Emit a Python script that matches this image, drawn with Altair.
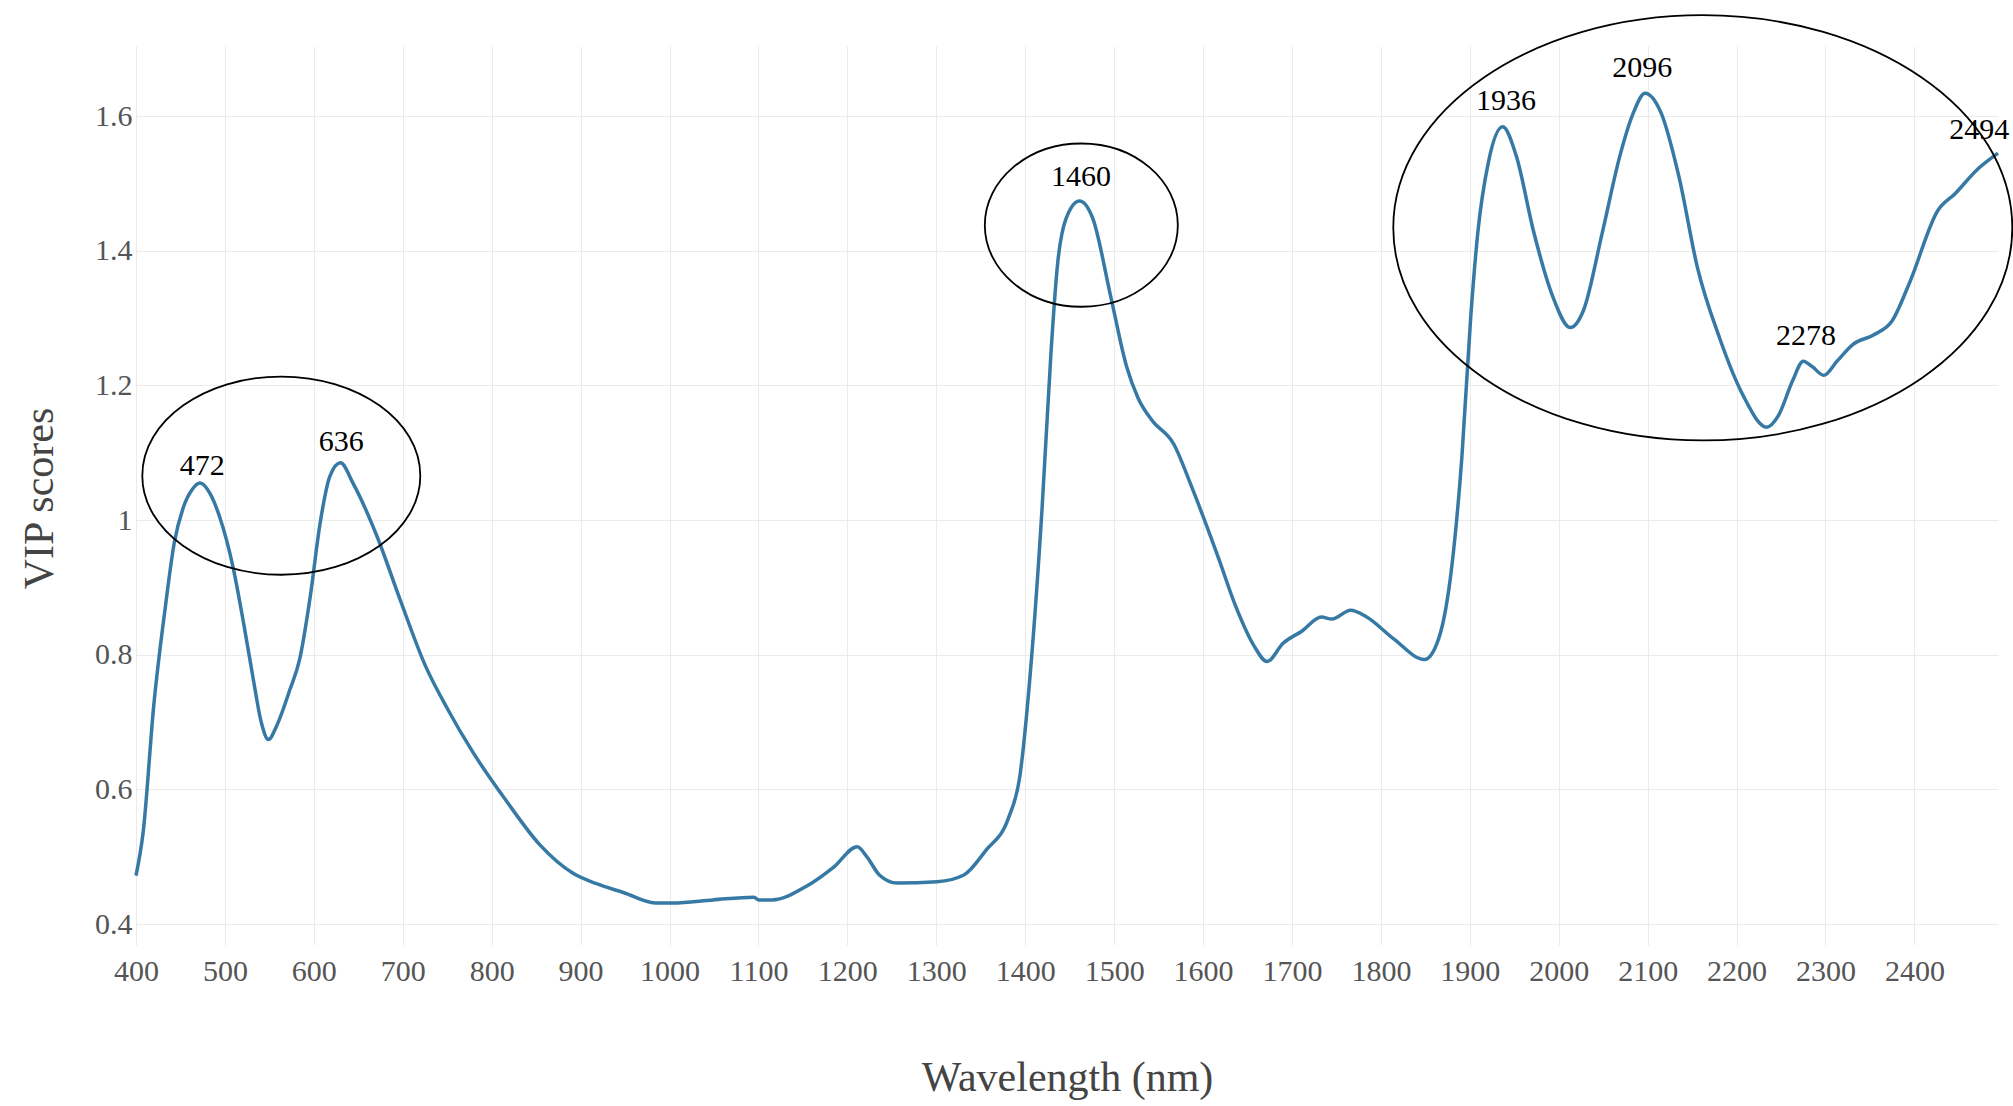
import altair as alt
import pandas as pd

# VIP score curve
wavelength = [400, 408, 420, 433, 443, 453, 463, 472, 483, 494, 509, 521, 532, 541, 549, 558,
              573, 584, 596, 607, 618, 630, 644, 671, 697, 725, 751, 779, 817, 854, 892, 918,
              948, 984, 1004, 1049, 1095, 1100, 1115, 1155, 1185, 1211, 1222, 1236,
              1256, 1301, 1331, 1356, 1381, 1394, 1406, 1419, 1429, 1436, 1446, 1461, 1476,
              1496, 1514, 1527, 1542, 1567, 1587, 1617, 1637, 1657, 1672, 1690, 1711, 1733,
              1745, 1766, 1784, 1814, 1849, 1865, 1880, 1891, 1901, 1909, 1921, 1937, 1952,
              1972, 1993, 2013, 2028, 2049, 2069, 2084, 2097, 2115, 2135, 2156, 2181, 2207,
              2234, 2247, 2263, 2275, 2285, 2298, 2313, 2331, 2354, 2375, 2395, 2426, 2446,
              2471, 2494]
vip = [0.472, 0.536, 0.725, 0.871, 0.966, 1.018, 1.045, 1.055, 1.040, 1.005, 0.931, 0.847,
       0.763, 0.699, 0.674, 0.694, 0.748, 0.793, 0.887, 0.995, 1.065, 1.085, 1.055, 0.976,
       0.882, 0.785, 0.718, 0.655, 0.582, 0.518, 0.475, 0.460, 0.447, 0.4315, 0.4315,
       0.436, 0.440, 0.436, 0.436, 0.457, 0.485, 0.515, 0.500, 0.473, 0.461, 0.463,
       0.473, 0.510, 0.557, 0.620, 0.777, 1.018, 1.249, 1.375, 1.448, 1.474, 1.448, 1.333,
       1.228, 1.181, 1.149, 1.113, 1.050, 0.945, 0.871, 0.814, 0.790, 0.817, 0.835, 0.856,
       0.853, 0.866, 0.856, 0.824, 0.793, 0.824, 0.934, 1.092, 1.301, 1.427, 1.532, 1.584,
       1.542, 1.427, 1.333, 1.286, 1.312, 1.427, 1.542, 1.605, 1.634, 1.605, 1.511, 1.375,
       1.270, 1.186, 1.138, 1.155, 1.207, 1.236, 1.228, 1.215, 1.236, 1.261, 1.275, 1.296,
       1.354, 1.459, 1.485, 1.521, 1.545]

# Peak annotations
label_text = ["472", "636", "1460", "1936", "2096", "2278", "2494"]
label_x = [474.6, 630.7, 1462.8, 1940.6, 2094, 2278, 2473]
label_y = [1.081, 1.116, 1.510, 1.623, 1.672, 1.274, 1.579]

# Ellipses drawn around peak groups (centre in data units, width in px, aspect)
ell_x = [563.4, 1463.1, 2162]
ell_y = [1.066, 1.438, 1.434]
ell_w = [278, 193, 619]
ell_ratio = [0.713, 0.846, 0.687]

x_ticks = list(range(400, 2401, 100))
y_ticks = [0.4, 0.6, 0.8, 1.0, 1.2, 1.4, 1.6]

curve = pd.DataFrame({"wavelength": wavelength, "vip": vip})
labels = pd.DataFrame({"t": label_text, "x": label_x, "y": label_y})
ellipses = pd.DataFrame({
    "x": ell_x, "y": ell_y,
    "size": [w * w for w in ell_w],
    "shape": [f"M -1 0 A 1 {r} 0 1 0 1 0 A 1 {r} 0 1 0 -1 0 Z" for r in ell_ratio],
})

FONT = "Liberation Serif"
xscale = alt.Scale(domain=[400, 2494], nice=False, zero=False)
yscale = alt.Scale(domain=[0.369, 1.704], nice=False, zero=False)

line = alt.Chart(curve).mark_line(color="#3579a4", strokeWidth=3.5, interpolate="monotone").encode(
    x=alt.X("wavelength:Q", scale=xscale,
            axis=alt.Axis(values=x_ticks, title="Wavelength (nm)", format="d",
                          grid=True, gridColor="#ebebeb", gridWidth=1,
                          domain=False, ticks=False, tickSize=0, labelFlush=False,
                          labelFont=FONT, labelFontSize=30, labelColor="#555555",
                          labelPadding=11, labelBaseline="top",
                          titleFont=FONT, titleFontSize=42, titleFontWeight="normal",
                          titleColor="#444444", titleY=145, titleBaseline="alphabetic")),
    y=alt.Y("vip:Q", scale=yscale,
            axis=alt.Axis(values=y_ticks, title="VIP scores", format="~g",
                          grid=True, gridColor="#ebebeb", gridWidth=1,
                          domain=False, ticks=False, tickSize=0, labelFlush=False,
                          labelFont=FONT, labelFontSize=30, labelColor="#555555",
                          labelPadding=4,
                          titleFont=FONT, titleFontSize=42, titleFontWeight="normal",
                          titleColor="#444444", titleX=-84, titleY=452,
                          titleAngle=-90, titleBaseline="alphabetic", titleAlign="center")),
)

text = alt.Chart(labels).mark_text(font=FONT, fontSize=30, color="black",
                                   align="center", baseline="middle").encode(
    x=alt.X("x:Q", scale=xscale), y=alt.Y("y:Q", scale=yscale), text="t:N")

rings = alt.Chart(ellipses).mark_point(filled=False, stroke="black", strokeWidth=1.8,
                                       opacity=1, fill=None).encode(
    x=alt.X("x:Q", scale=xscale), y=alt.Y("y:Q", scale=yscale),
    shape=alt.Shape("shape:N", scale=None),
    size=alt.Size("size:Q", scale=None),
)

chart = alt.layer(line, rings, text).properties(
    width=1862, height=899,
    autosize=alt.AutoSizeParams(type="none"),
    padding={"left": 136, "top": 46, "right": 15, "bottom": 161},
    background="white",
).configure_view(stroke=None)

chart.save("out.html", embed_options={"renderer": "svg", "actions": False})
